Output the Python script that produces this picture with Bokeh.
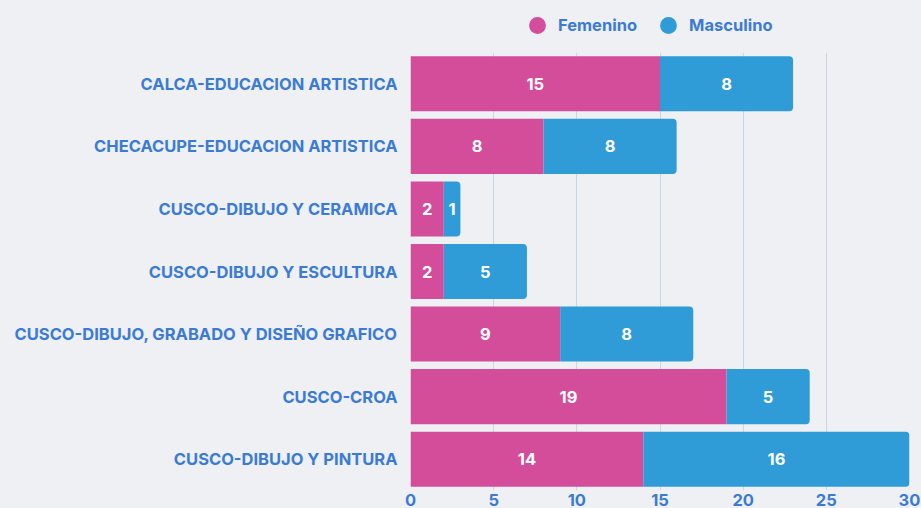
from bokeh.plotting import figure
from bokeh.layouts import column
from bokeh.models import ColumnDataSource, FactorRange, Legend, LegendItem, LabelSet, Range1d, FixedTicker
from bokeh.core.properties import value
from bokeh.embed import file_html
from bokeh.resources import INLINE

categories = [
    "CALCA-EDUCACION ARTISTICA",
    "CHECACUPE-EDUCACION ARTISTICA",
    "CUSCO-DIBUJO Y CERAMICA",
    "CUSCO-DIBUJO Y ESCULTURA",
    "CUSCO-DIBUJO, GRABADO Y DISEÑO GRAFICO",
    "CUSCO-CROA",
    "CUSCO-DIBUJO Y PINTURA",
]
femenino = [15, 8, 2, 2, 9, 19, 14]
masculino = [8, 8, 1, 5, 8, 5, 16]
x_ticks = [0, 5, 10, 15, 20, 25, 30]

PINK = "#d44d9b"
BLUE = "#2f9bd7"
TEXT = "#3b7bd4"
BG = "#eef0f3"
GRID = "#c8d6e8"
FONT = "Inter"

src = ColumnDataSource(dict(
    cat=categories,
    fem_end=femenino,
    mas_end=[f + m for f, m in zip(femenino, masculino)],
    fem_mid=[f / 2 for f in femenino],
    mas_mid=[f + m / 2 for f, m in zip(femenino, masculino)],
    fem_txt=[str(v) for v in femenino],
    mas_txt=[str(v) for v in masculino],
))

# ---- legend strip on top ----
top = figure(width=921, height=52, output_backend="svg", toolbar_location=None,
             x_range=Range1d(0, 1), y_range=Range1d(0, 1),
             x_axis_location=None, y_axis_location=None,
             frame_width=921, frame_height=52,
             background_fill_color=BG, border_fill_color=BG,
             min_border_left=0, min_border_right=0, min_border_top=0, min_border_bottom=0)
top.outline_line_color = None
top.grid.visible = False
# legend-only renderers: a single point outside the visible range
dummy = ColumnDataSource(dict(x=[-5], y=[-5]))
c1 = top.scatter(x="x", y="y", source=dummy, marker="circle", size=17, fill_color=PINK, line_color=None)
c2 = top.scatter(x="x", y="y", source=dummy, marker="circle", size=17, fill_color=BLUE, line_color=None)
legend = Legend(items=[LegendItem(label="Femenino", renderers=[c1]),
                       LegendItem(label="Masculino", renderers=[c2])],
                orientation="horizontal", location=(516, 6),
                background_fill_alpha=0, border_line_color=None,
                label_text_font=FONT, label_text_font_size="16.5px", label_text_font_style="bold",
                label_text_color=TEXT, glyph_width=42, glyph_height=42, label_height=17,
                label_text_baseline="middle",
                spacing=10, label_standoff=-2, margin=0, padding=0)
top.add_layout(legend, "center")

# ---- main chart ----
p = figure(width=921, height=456, output_backend="svg", toolbar_location=None,
           y_range=FactorRange(*reversed(categories), range_padding=0.0),
           x_range=Range1d(0, 30),
           frame_width=499, frame_height=438,
           background_fill_color=BG, border_fill_color=BG,
           min_border_left=410, min_border_right=12, min_border_top=0, min_border_bottom=0)
p.outline_line_color = None

p.hbar(y="cat", left=0, right="fem_end", height=0.88, source=src,
       fill_color=PINK, line_color=None)
p.hbar(y="cat", left="fem_end", right="mas_end", height=0.88, source=src,
       fill_color=BLUE, line_color=None, border_radius=(0, 4, 4, 0))

for xcol, tcol in (("fem_mid", "fem_txt"), ("mas_mid", "mas_txt")):
    lab = LabelSet(x=xcol, y="cat", text=tcol, source=src, text_align="center",
                   text_baseline="middle", text_color="white", text_font=value(FONT),
                   text_font_size="16.5px", text_font_style="bold")
    p.add_layout(lab)

p.xgrid.grid_line_color = GRID
p.xgrid.ticker = FixedTicker(ticks=x_ticks)
p.ygrid.grid_line_color = None

p.xaxis.ticker = FixedTicker(ticks=x_ticks)
p.xaxis.axis_line_color = None
p.xaxis.major_tick_line_color = None
p.xaxis.minor_tick_line_color = None
p.xaxis.major_tick_out = 0
p.xaxis.major_label_standoff = 3
p.xaxis.major_label_text_font = FONT
p.xaxis.major_label_text_font_size = "16.5px"
p.xaxis.major_label_text_font_style = "bold"
p.xaxis.major_label_text_color = TEXT

p.yaxis.axis_line_color = None
p.yaxis.major_tick_line_color = None
p.yaxis.minor_tick_line_color = None
p.yaxis.major_tick_out = 0
p.yaxis.major_label_standoff = 13
p.yaxis.major_label_text_font = FONT
p.yaxis.major_label_text_font_size = "16.5px"
p.yaxis.major_label_text_font_style = "bold"
p.yaxis.major_label_text_color = TEXT

layout = column(top, p, spacing=0)
html = file_html(layout, INLINE)
html = html.replace("</head>", "<style>html,body{background:%s;}</style></head>" % BG, 1)
open("out.html", "w").write(html)
